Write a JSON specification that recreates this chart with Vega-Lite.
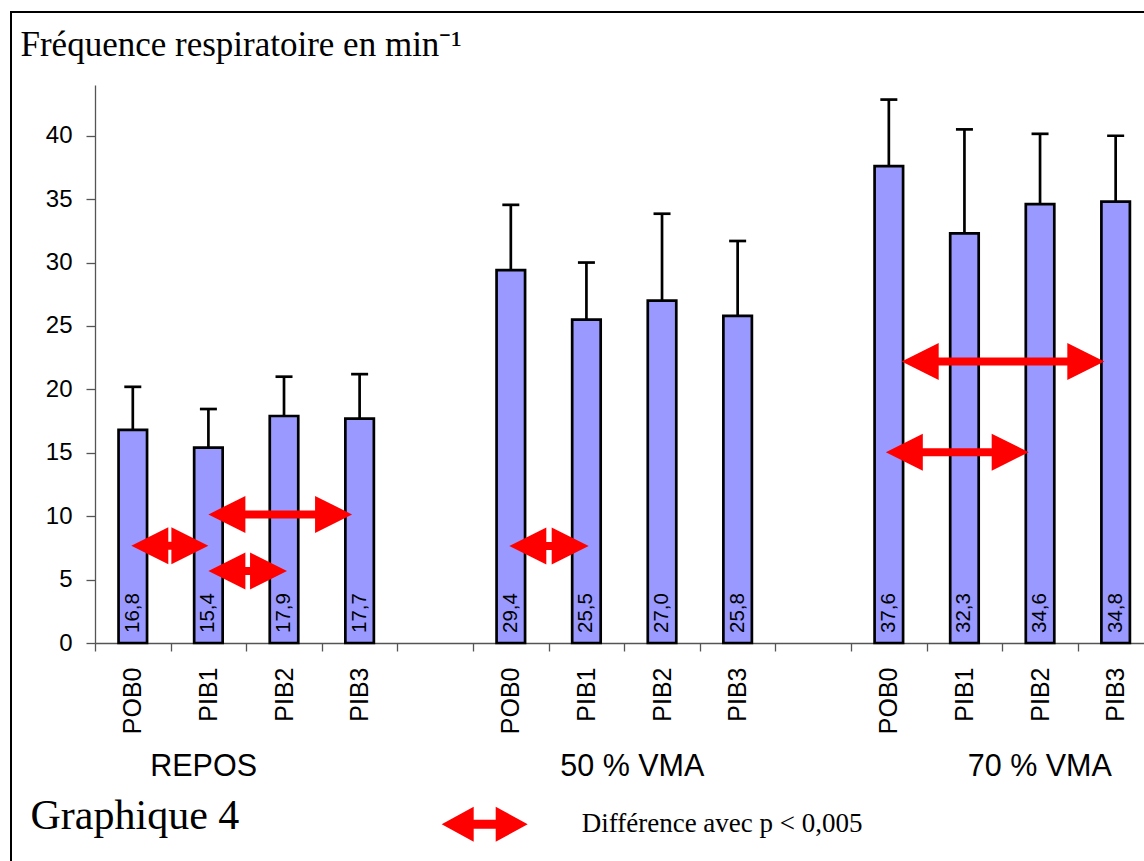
{
  "$schema": "https://vega.github.io/schema/vega-lite/v6.json",
  "width": 1049,
  "height": 558,
  "autosize": {"type": "none"},
  "padding": {"left": 95, "top": 85, "right": 0, "bottom": 218},
  "background": "white",
  "config": {
    "view": {"stroke": null},
    "locale": {"number": {"decimal": ",", "thousands": " ", "grouping": [3], "currency": ["", " €"]}},
    "axis": {"grid": false, "labelFlush": false, "labelOverlap": false, "labelColor": "black", "titleColor": "black"}
  },
  "datasets": {
    "bars": [
      {"group": "REPOS", "cond": "POB0", "slot": 0, "value": 16.8, "upper": 20.2},
      {"group": "REPOS", "cond": "PIB1", "slot": 1, "value": 15.4, "upper": 18.45},
      {"group": "REPOS", "cond": "PIB2", "slot": 2, "value": 17.9, "upper": 21.0},
      {"group": "REPOS", "cond": "PIB3", "slot": 3, "value": 17.7, "upper": 21.2},
      {"group": "50 % VMA", "cond": "POB0", "slot": 5, "value": 29.4, "upper": 34.55},
      {"group": "50 % VMA", "cond": "PIB1", "slot": 6, "value": 25.5, "upper": 30.0},
      {"group": "50 % VMA", "cond": "PIB2", "slot": 7, "value": 27.0, "upper": 33.85},
      {"group": "50 % VMA", "cond": "PIB3", "slot": 8, "value": 25.8, "upper": 31.7},
      {"group": "70 % VMA", "cond": "POB0", "slot": 10, "value": 37.6, "upper": 42.85},
      {"group": "70 % VMA", "cond": "PIB1", "slot": 11, "value": 32.3, "upper": 40.5},
      {"group": "70 % VMA", "cond": "PIB2", "slot": 12, "value": 34.6, "upper": 40.15},
      {"group": "70 % VMA", "cond": "PIB3", "slot": 13, "value": 34.8, "upper": 40.0}
    ],
    "arrows": [
      {"from": "REPOS POB0", "to": "REPOS PIB1", "x1": -0.02, "x2": 1.0, "y": 7.67},
      {"from": "REPOS PIB1", "to": "REPOS PIB2", "x1": 1.0, "x2": 2.04, "y": 5.67},
      {"from": "REPOS PIB1", "to": "REPOS PIB3", "x1": 1.0, "x2": 2.9, "y": 10.14},
      {"from": "50 % VMA POB0", "to": "50 % VMA PIB1", "x1": 4.98, "x2": 6.03, "y": 7.64},
      {"from": "70 % VMA POB0", "to": "70 % VMA PIB3", "x1": 10.17, "x2": 12.85, "y": 22.2},
      {"from": "70 % VMA POB0", "to": "70 % VMA PIB2", "x1": 9.96, "x2": 11.85, "y": 15.05}
    ],
    "groups": [
      {"group": "REPOS", "pos": 0.93},
      {"group": "50 % VMA", "pos": 6.6},
      {"group": "70 % VMA", "pos": 11.99}
    ]
  },
  "layer": [
    {
      "layer": [
        {
          "data": {"name": "bars"},
          "mark": {"type": "rect", "fillOpacity": 0, "stroke": "black", "strokeWidth": 1.5, "clip": false},
          "encoding": {
            "x": {"datum": -1.611, "type": "quantitative", "title": "Graphique 4"},
            "x2": {"datum": 30},
            "y": {"datum": 49.75, "type": "quantitative", "title": "Fréquence respiratoire en min⁻¹"},
            "y2": {"datum": -40}
          }
        },
        {
          "data": {"name": "bars"},
          "mark": {"type": "bar", "orient": "vertical", "width": 28.5, "fill": "#9999ff", "stroke": "black", "strokeWidth": 2.7},
          "encoding": {
            "x": {
              "field": "slot", "type": "quantitative", "title": "Graphique 4",
              "scale": {"domain": [-0.5, 13.375], "nice": false, "zero": false, "padding": 0},
              "axis": {
                "values": [0, 1, 2, 3, 4, 5, 6, 7, 8, 9, 10, 11, 12, 13],
                "labelExpr": "['POB0','PIB1','PIB2','PIB3',''][datum.value % 5]",
                "tickOffset": -37.8,
                "labelOffset": 37.8,
                "labelAngle": 270,
                "tickSize": 8,
                "tickColor": "#555",
                "tickWidth": 1.3,
                "domainColor": "#555",
                "domainWidth": 1.3,
                "labelPadding": 16,
                "labelFont": "Liberation Sans",
                "labelFontSize": 25,
                "titleX": -65,
                "titleY": 185,
                "titleAngle": 0,
                "titleAlign": "left",
                "titleBaseline": "alphabetic",
                "titleFont": "Liberation Serif",
                "titleFontSize": 42,
                "titleFontWeight": "normal"
              }
            },
            "y": {
              "field": "value", "type": "quantitative", "title": "Fréquence respiratoire en min⁻¹",
              "scale": {"domain": [0, 44], "nice": false, "padding": 0},
              "axis": {
                "values": [0, 5, 10, 15, 20, 25, 30, 35, 40],
                "tickSize": 9,
                "tickColor": "#555",
                "tickWidth": 1.3,
                "domainColor": "#555",
                "domainWidth": 1.3,
                "labelPadding": 14,
                "labelFont": "Liberation Sans",
                "labelFontSize": 24,
                "titleX": -75,
                "titleY": -30,
                "titleAngle": 0,
                "titleAlign": "left",
                "titleBaseline": "alphabetic",
                "titleFont": "Liberation Serif",
                "titleFontSize": 35,
                "titleFontWeight": "normal"
              }
            }
          }
        },
        {
          "data": {"name": "bars"},
          "mark": {"type": "rule", "color": "black", "strokeWidth": 2.7},
          "encoding": {
            "x": {"field": "slot", "type": "quantitative", "title": "Graphique 4"},
            "y": {"field": "value", "type": "quantitative", "title": "Fréquence respiratoire en min⁻¹"},
            "y2": {"field": "upper"}
          }
        },
        {
          "data": {"name": "bars"},
          "mark": {"type": "tick", "orient": "horizontal", "color": "black", "size": 17, "thickness": 2.7, "opacity": 1},
          "encoding": {
            "x": {"field": "slot", "type": "quantitative", "title": "Graphique 4"},
            "y": {"field": "upper", "type": "quantitative", "title": "Fréquence respiratoire en min⁻¹"}
          }
        },
        {
          "data": {"name": "bars"},
          "mark": {"type": "text", "angle": 270, "align": "left", "baseline": "middle", "dx": 10, "font": "Liberation Sans", "fontSize": 20.5, "color": "black"},
          "encoding": {
            "x": {"field": "slot", "type": "quantitative", "title": "Graphique 4"},
            "y": {"datum": 0, "type": "quantitative"},
            "text": {"field": "value", "type": "quantitative", "format": ".1f"}
          }
        },
        {
          "data": {"name": "arrows"},
          "mark": {"type": "rule", "color": "#ff0000", "strokeWidth": 8, "xOffset": 20, "x2Offset": -20},
          "encoding": {
            "x": {"field": "x1", "type": "quantitative", "title": "Graphique 4"},
            "x2": {"field": "x2"},
            "y": {"field": "y", "type": "quantitative", "title": "Fréquence respiratoire en min⁻¹"}
          }
        },
        {
          "data": {"name": "arrows"},
          "mark": {"type": "point", "filled": true, "opacity": 1, "strokeWidth": 0, "size": 1369, "shape": "M0,0L2,-1L2,1Z"},
          "encoding": {
            "x": {"field": "x1", "type": "quantitative", "title": "Graphique 4"},
            "y": {"field": "y", "type": "quantitative", "title": "Fréquence respiratoire en min⁻¹"},
            "color": {
              "datum": "Différence avec p < 0,005",
              "scale": {"range": ["#ff0000"]},
              "legend": {
                "orient": "none",
                "legendX": 346.7,
                "legendY": 696.3,
                "title": null,
                "padding": 0,
                "symbolType": "M-1,0L-0.256,-0.407L-0.256,-0.105L0.256,-0.105L0.256,-0.407L1,0L0.256,0.407L0.256,0.105L-0.256,0.105L-0.256,0.407Z",
                "symbolSize": 7396,
                "symbolOpacity": 1,
                "symbolStrokeWidth": 0,
                "symbolFillColor": "#ff0000",
                "labelFont": "Liberation Serif",
                "labelFontSize": 27,
                "labelColor": "black",
                "labelOffset": 54,
                "labelLimit": 0,
                "encode": {"symbols": {"update": {"fill": {"value": "#ff0000"}, "stroke": {"value": "transparent"}, "opacity": {"value": 1}}}}
              }
            }
          }
        },
        {
          "data": {"name": "arrows"},
          "mark": {"type": "point", "filled": true, "opacity": 1, "strokeWidth": 0, "size": 1369, "shape": "M0,0L-2,-1L-2,1Z"},
          "encoding": {
            "x": {"field": "x2", "type": "quantitative", "title": "Graphique 4"},
            "y": {"field": "y", "type": "quantitative", "title": "Fréquence respiratoire en min⁻¹"},
            "color": {"datum": "Différence avec p < 0,005"}
          }
        }
      ]
    },
    {
      "data": {"name": "groups"},
      "mark": {"type": "point", "opacity": 0},
      "encoding": {
        "x": {
          "field": "pos", "type": "quantitative",
          "scale": {"domain": [-0.5, 13.375], "nice": false, "zero": false, "padding": 0},
          "axis": {
            "orient": "bottom",
            "values": [0.93, 6.6, 11.99],
            "labelExpr": "datum.value < 3 ? 'REPOS' : datum.value < 9 ? '50 % VMA' : '70 % VMA'",
            "domain": false,
            "ticks": false,
            "tickSize": 0,
            "labelAngle": 0,
            "labelAlign": "center",
            "labelBaseline": "alphabetic",
            "labelPadding": 132,
            "labelFont": "Liberation Sans",
            "labelFontSize": 30.5,
            "title": null
          }
        },
        "y": {"datum": 0, "type": "quantitative"}
      }
    }
  ],
  "resolve": {"scale": {"x": "independent"}, "axis": {"x": "independent"}}
}
